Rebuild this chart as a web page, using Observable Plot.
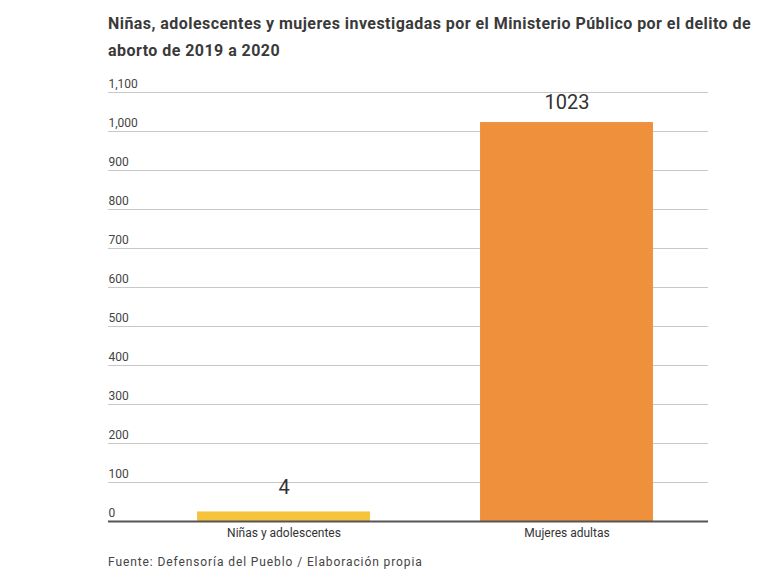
<!DOCTYPE html>
<html>
<head>
<meta charset="utf-8">
<script src="https://cdn.jsdelivr.net/npm/d3@7"></script>
<script src="https://cdn.jsdelivr.net/npm/@observablehq/plot@0.6"></script>
<style>
  body { margin: 0; background: #fff; font-family: Roboto, "Noto Sans", sans-serif; }
  #wrap { width: 761px; }
  #title { padding: 10px 0 0 108px; font-size: 16px; letter-spacing: 0.45px; font-weight: 700; color: #3a3a3a; line-height: 27px; height: 54px; white-space: nowrap; }
  #caption { padding-left: 108px; font-size: 12px; color: #444; line-height: 28px; letter-spacing: 0.9px; }
</style>
</head>
<body>
<div id="wrap">
  <div id="title">Niñas, adolescentes y mujeres investigadas por el Ministerio Público por el delito de<br>aborto de 2019 a 2020</div>
  <div id="chart"></div>
  <div id="caption">Fuente: Defensoría del Pueblo / Elaboración propia</div>
</div>
<script>
const categories = ["Niñas y adolescentes", "Mujeres adultas"];
const values = [4, 1023];
const colors = ["#f5c43c", "#ee903c"];
const yTicks = [0, 100, 200, 300, 400, 500, 600, 700, 800, 900, 1000, 1100];

const data = categories.map((c, i) => ({cat: c, value: values[i], color: colors[i]}));
const small = data.filter(d => d.value < 50);
const large = data.filter(d => d.value >= 50);
const fmt = d3.format(",");

const chart = Plot.plot({
  width: 761,
  height: 484,
  marginLeft: 108,
  marginRight: 53,
  marginTop: 28,
  marginBottom: 27,
  style: {fontFamily: "Roboto, sans-serif", background: "transparent"},
  x: {domain: categories, paddingInner: 0.389, paddingOuter: 0.2546, align: 0.618, round: false, label: null},
  y: {domain: [0, 1100], label: null, axis: null},
  color: {type: "identity"},
  marks: [
    Plot.ruleY(yTicks.filter(d => d > 0), {y: d => d, stroke: "#c8c8c8", strokeWidth: 1}),
    Plot.text(yTicks, {y: d => d, text: d => fmt(d), frameAnchor: "left", textAnchor: "start", lineAnchor: "bottom", dy: -5, fontSize: 12, fill: "#444", style: {letterSpacing: "1.2px"}}),
    Plot.barY(large, {x: "cat", y: "value", fill: "color"}),
    Plot.barY(small, {x: "cat", y: "value", fill: "color", insetTop: -8}),
    Plot.ruleY([0], {stroke: "#555", strokeWidth: 2}),
    Plot.text(large, {x: "cat", y: "value", text: d => String(d.value), lineAnchor: "bottom", dy: -14, fontSize: 20, fill: "#333", style: {letterSpacing: "1px"}}),
    Plot.text(small, {x: "cat", y: "value", text: d => String(d.value), lineAnchor: "bottom", dy: -26, fontSize: 20, fill: "#333"}),
    Plot.axisX({tickSize: 0, tickPadding: 7, fontSize: 12, fill: "#333", label: null, style: {letterSpacing: "0.6px"}})
  ]
});
document.getElementById("chart").appendChild(chart);
</script>
</body>
</html>
